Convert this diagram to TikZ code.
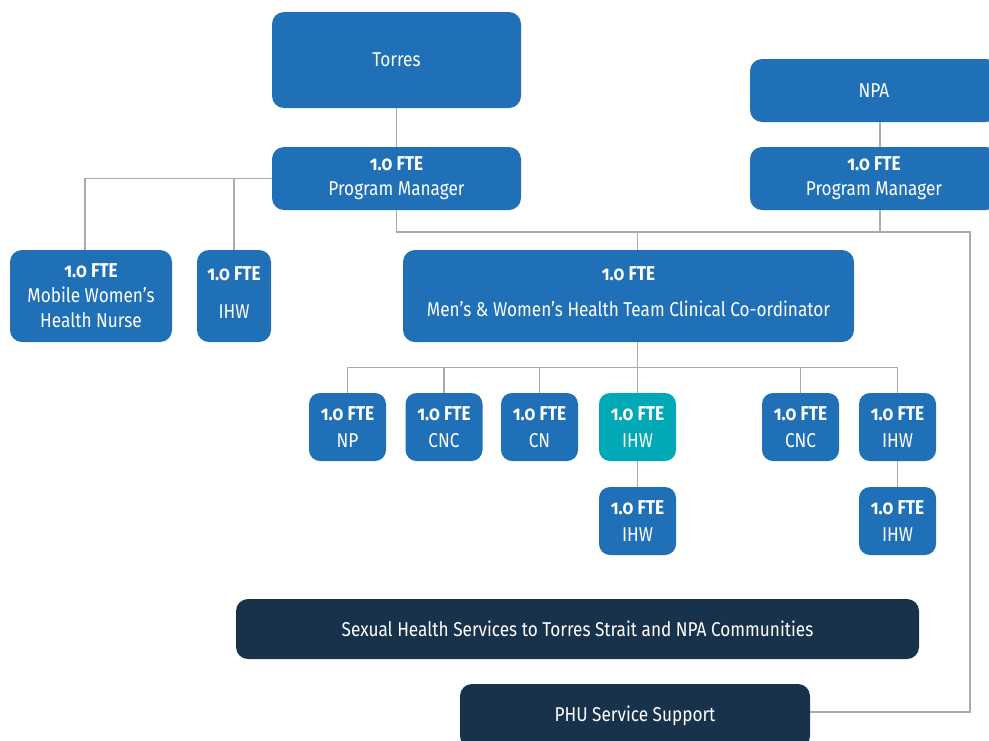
\documentclass[tikz,border=0pt]{standalone}
\usepackage{fontspec}
\setmainfont{Fira Sans}[FakeStretch=0.86]
\newcommand\fte{{\bfseries\addfontfeatures{Numbers=OldStyle}1.0 FTE}}
\newcommand\liftup[2]{\raisebox{#1}[\height][\depth]{\begin{tabular}{@{}c@{}}#2\end{tabular}}}
\definecolor{qblue}{HTML}{1F70B7}
\definecolor{qteal}{HTML}{00A9B5}
\definecolor{qnavy}{HTML}{18324C}
\definecolor{qline}{HTML}{ABABAB}
\tikzset{
  box/.style={fill=qblue, text=white, rounded corners=12pt, inner sep=0pt, align=center,
    font=\fontsize{20}{25}\selectfont},
  smallbox/.style={box, minimum width=77pt, minimum height=68pt, rounded corners=11pt,
    font=\fontsize{20}{27}\selectfont},
  darkbox/.style={box, fill=qnavy},
  conn/.style={draw=qline, line width=1.1pt},
}
\begin{document}
\begin{tikzpicture}[x=1pt, y=-1pt]
\useasboundingbox (0,0) rectangle (989,740);
% top level
\node[box, minimum width=249pt, minimum height=96pt] (torres) at (396.5,60) {Torres};
\node[box, minimum width=248pt, minimum height=63pt] (npa) at (874,90.5) {NPA};
\node[box, minimum width=249pt, minimum height=63pt] (tpm) at (396.5,178.5) {\fte\\Program Manager};
\node[box, minimum width=248pt, minimum height=63pt] (npm) at (874,178.5) {\fte\\Program Manager};
% second level
\node[box, minimum width=162pt, minimum height=92pt] (nurse) at (91,296) {\fte\\Mobile Women’s\\Health Nurse};
\node[box, minimum width=74pt, minimum height=92pt] (lihw) at (234,296) {\liftup{2pt}{\fte\\[13pt]IHW}};
\node[box, minimum width=451pt, minimum height=92pt] (coord) at (628.5,296) {\liftup{3pt}{\fte\\[11pt]Men’s \& Women’s Health Team Clinical Co-ordinator}};
% third level
\node[smallbox] (np) at (347.5,427) {\fte\\NP};
\node[smallbox] (cnca) at (444,427) {\fte\\CNC};
\node[smallbox] (cn) at (539.5,427) {\fte\\CN};
\node[smallbox, fill=qteal] (ihwt) at (637.5,427) {\fte\\IHW};
\node[smallbox] (cncb) at (800.5,427) {\fte\\CNC};
\node[smallbox] (ihwr) at (897.5,427) {\fte\\IHW};
\node[smallbox] (ihwb) at (637.5,521) {\fte\\IHW};
\node[smallbox] (ihwrb) at (897.5,521) {\fte\\IHW};
% bottom bars
\node[darkbox, minimum width=683pt, minimum height=60pt] (shs) at (577.5,629) {Sexual Health Services to Torres Strait and NPA Communities};
\node[darkbox, minimum width=350pt, minimum height=64pt] (phu) at (635,716) {PHU Service Support};
% connectors
\coordinate (busR) at (970,232);
\draw[conn] (torres) -- (tpm);
\draw[conn] ([xshift=6pt]npa.south) -- ([xshift=6pt]npm.north);
\draw[conn] ([xshift=-6pt]nurse.north) |- (tpm.west);
\draw[conn] (lihw.north) -- (lihw.north |- tpm.west);
\draw[conn] (tpm.south) |- (busR) |- ([yshift=4pt]phu.east);
\draw[conn] ([xshift=6pt]npm.south) -- ([xshift=6pt]npm.south |- busR);
\draw[conn] (coord.north -| ihwt.north) -- (ihwt.north |- busR);
\draw[conn] (ihwt.north) -- ++(0,-25) coordinate (subj);
\draw[conn] (coord.south -| ihwt.north) -- (subj);
\draw[conn] (np.north) |- (subj);
\draw[conn] (ihwr.north) |- (subj);
\draw[conn] (cnca.north) -- (cnca.north |- subj);
\draw[conn] (cn.north) -- (cn.north |- subj);
\draw[conn] (cncb.north) -- (cncb.north |- subj);
\draw[conn] (ihwt) -- (ihwb);
\draw[conn] (ihwr) -- (ihwrb);
\end{tikzpicture}
\end{document}
